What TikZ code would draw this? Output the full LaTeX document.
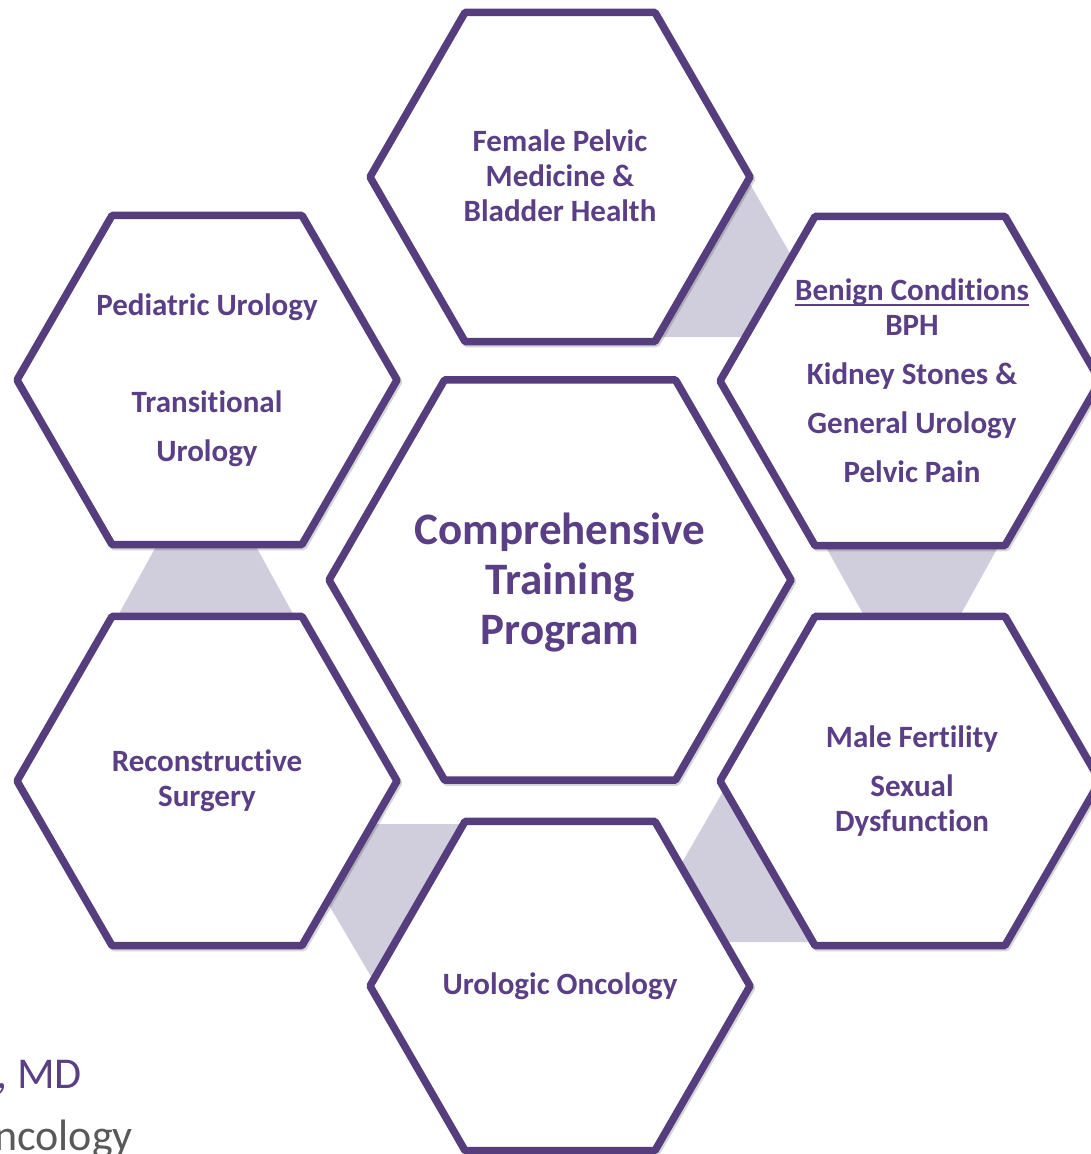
\documentclass[tikz,border=0pt]{standalone}
\usepackage{fontspec}
\setmainfont[Ligatures=NoCommon]{Carlito}
\usetikzlibrary{shapes.geometric}
\definecolor{purp}{HTML}{563E7E}
\definecolor{txtp}{HTML}{5A3F86}
\definecolor{gfill}{HTML}{D0CDDC}
\definecolor{gtxt}{HTML}{595959}
\newsavebox\ulbox
\newcommand{\myul}[1]{\sbox\ulbox{#1}\rlap{\rule[-5pt]{\wd\ulbox}{1.6pt}}\usebox\ulbox}
\begin{document}
\begin{tikzpicture}[x=1pt,y=-1pt,
  hexo/.style={regular polygon, regular polygon sides=6, draw=purp, line width=7.5pt,
    fill=white, inner sep=0pt, minimum size=380pt, line join=round,
    preaction={draw=black, draw opacity=0.16, line width=7.5pt,
      transform canvas={shift={(1.5pt,-2pt)}}}},
  hexc/.style={hexo, minimum size=462pt},
  lbl/.style={text=txtp, font=\fontsize{31}{35}\selectfont\bfseries, align=center, inner sep=0pt},
  big/.style={lbl, font=\fontsize{45}{50}\selectfont\bfseries},
  link/.style={fill=gfill, draw=none},
  side/.style={anchor=base west, inner sep=0pt, font=\fontsize{44}{50}\selectfont}]
\useasboundingbox (0,0) rectangle (1091,1154);
\clip (0,0) rectangle (1091,1154);
% grey links
\fill[link] (746,177) -- (795,262) -- (770,337) -- (630,337) -- cycle;
\fill[link] (159.5,540) -- (252.5,540) -- (297.5,622) -- (114.5,622) -- cycle;
\fill[link] (822,540) -- (1002,540) -- (956.5,622) -- (867.5,622) -- cycle;
\fill[link] (320,890) -- (360,824) -- (470,824) -- (379,990) -- cycle;
\fill[link] (729,781) -- (672,880) -- (720,942) -- (818,942) -- cycle;
% hexagons
\node[hexo] (hTop) at (560,177) {};
\node[hexo] (hPed) at (207,380) {};
\node[hexo] (hBen) at (910,381) {};
\node[hexc] (hCen) at (560,580) {};
\node[hexo] (hRec) at (207,781) {};
\node[hexo] (hMal) at (910,781) {};
\node[hexo] (hUro) at (560,986) {};
% labels
\node[lbl] (tTop) at ([yshift=1pt]hTop.center) {Female Pelvic\\Medicine \&\\Bladder Health};
\node[lbl] (tPed) at (hPed) {Pediatric Urology\\[62pt]Transitional\\[14pt]Urology};
\node[lbl] (tBen) at ([xshift=2pt]hBen.center) {\myul{Benign Conditions}\\BPH\\[14pt]Kidney Stones \&\\[14pt]General Urology\\[14pt]Pelvic Pain};
\node[big] (tCen) at ([yshift=-3pt]hCen.center) {Comprehensive\\Training\\Program};
\node[lbl] (tRec) at (hRec) {Reconstructive\\Surgery};
\node[lbl] (tMal) at ([xshift=2pt]hMal.center) {Male Fertility\\[14pt]Sexual\\Dysfunction};
\node[lbl] (tUro) at (hUro) {Urologic Oncology};
% cropped side texts
\node[side, text=txtp] (md) at (-4,1088) {, MD};
\node[side, text=gtxt] (onc) at (-6,1150) {ncology};
\end{tikzpicture}
\end{document}
